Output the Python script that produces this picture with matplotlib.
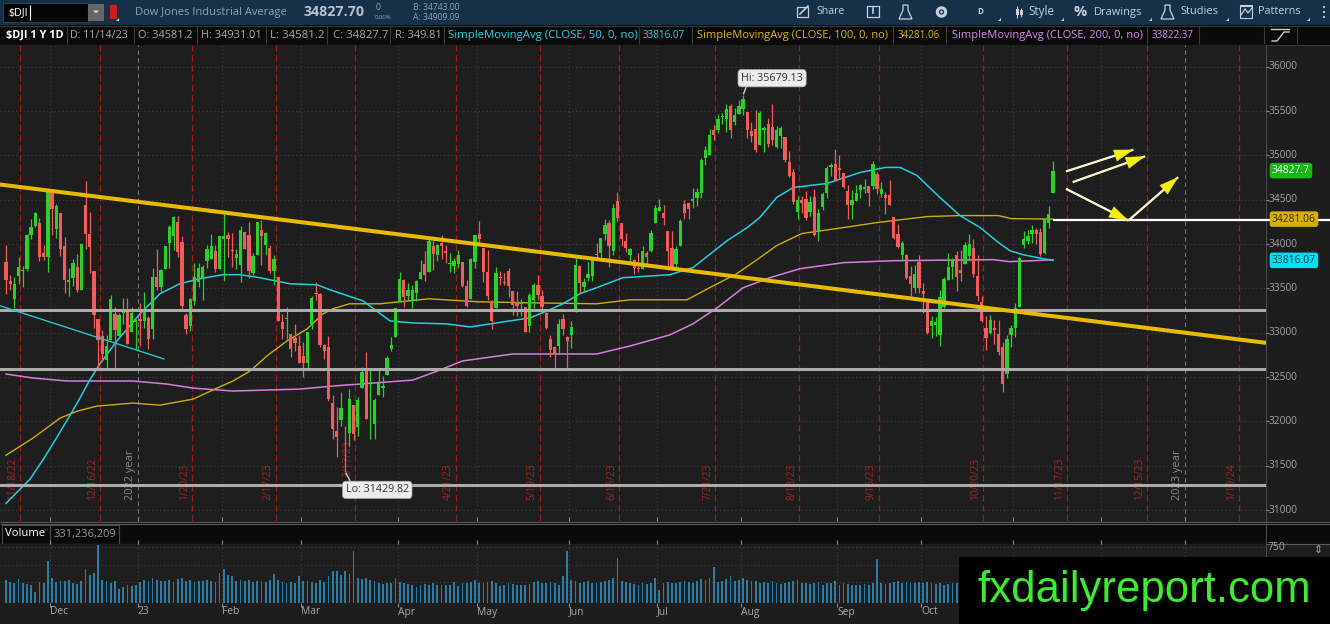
import numpy as np
import pandas as pd
import matplotlib
matplotlib.use("Agg")
import matplotlib.pyplot as plt
from matplotlib import font_manager
from matplotlib.patches import Rectangle, Polygon
from matplotlib.transforms import blended_transform_factory as blend

# ============================== data ==============================
SYMBOL = "$DJI"
NAME = "Dow Jones Industrial Average"
NET_CHANGE = "0"
PCT_CHANGE = "0.00%"
BID = "B: 34743.00"
ASK = "A: 34909.09"
CHART_TAG = "$DJI 1 Y 1D"
FIRST_DAY = "2022-11-15"
HOLIDAYS = ["2022-11-24", "2022-12-26", "2023-01-02", "2023-01-16", "2023-02-20",
            "2023-04-07", "2023-05-29", "2023-06-19", "2023-07-04", "2023-09-04",
            "2023-11-23", "2023-12-25", "2024-01-01", "2024-01-15", "2024-02-19"]

OPENS = [
    33795, 33580, 33380, 33640, 33700, 33720, 34100, 34207, 34238, 33897, 33852,
    34592, 34168, 34352, 33975, 33575, 33614, 33746, 33482, 34444, 34118, 33700, 33156, 32967, 32688, 32920, 33216, 32961, 33225, 33264, 33004, 33121,
    33149, 33136, 33168, 33046, 33624, 33519, 33713, 34009, 34086, 34247, 34025, 33198, 33073, 33363, 33570, 33616, 33810, 33834, 33920, 33715,
    34052, 34107, 33928, 33842, 33769, 34131, 34106, 33675, 33876, 34161, 33987, 33960, 33699, 33623, 33125, 33153, 32990, 32943, 32852,
    32740, 32656, 33094, 33446, 33431, 32858, 32834, 32207, 31888, 32020, 31877, 31869, 32186, 31931, 32376, 32579, 32101, 31973, 32293, 32376, 32527, 32819, 32952,
    33342, 33596, 33409, 33373, 33447, 33611, 33776, 33685, 33980, 33873, 34017, 33924, 33777, 33754, 33779, 33800, 33531, 33378, 33800,
    34115, 33958, 33690, 33360, 33275, 33630, 33569, 33693, 33468, 33349, 33321, 33286, 33079, 33373, 33533, 33413, 33218, 32933, 32836, 32845, 33152, 32954,
    32972, 33236, 33749, 33521, 33620, 33638, 33893, 33900, 34115, 34240, 33919, 34486, 34240, 34032, 33880, 33825, 33731, 33714, 33896, 33927, 34238,
    34377, 34355, 34147, 33957, 33771, 33977, 34448, 34461, 34489, 34523, 34573, 34969, 35002, 35290, 35285, 35431, 35412, 35560, 35375, 35466,
    35522, 35494, 35274, 35298, 35118, 35289, 35357, 35318, 35090, 35219, 35208, 34927, 34817, 34361, 34501, 34506, 34357, 34536, 34147, 34418, 34576, 34871, 34898,
    34863, 34803, 34599, 34444, 34486, 34613, 34620, 34652, 34651, 34788, 34567, 34557, 34553, 34301, 34116, 33874, 33876, 33640, 33509, 33802,
    33465, 33350, 33072, 33092, 32970, 33290, 33594, 33746, 33875, 33705, 33778, 33862, 33951, 33640, 33349, 33049, 33002, 33055, 32986, 32836, 32530, 32969,
    33052, 33290, 33991, 34039, 34113, 34159, 34141, 33898, 34237, 34581.2]

HIGHS = [
    33988, 33656, 33627, 33859, 33752, 34115, 34287, 34363, 34289, 33993, 34589,
    34595, 34452, 34352, 34074, 33728, 33826, 33887, 34011, 34712, 34356, 33700, 33156, 33036, 32975, 33420, 33292, 33226, 33387, 33388, 33294, 33152,
    33340, 33455, 33187, 33726, 33941, 33714, 33973, 34220, 34317, 34318, 34087, 33222, 33389, 33783, 33781, 33762, 33986, 34111, 33987, 34087,
    34335, 34138, 34120, 33943, 34202, 34140, 34252, 33897, 34249, 34266, 34138, 33988, 33881, 33623, 33215, 33287, 32990, 33096, 32970,
    32891, 33003, 33417, 33573, 33446, 32867, 32968, 32296, 32164, 32333, 31945, 32368, 32186, 32270, 32616, 32780, 32586, 32265, 32594, 32512, 32738, 32948, 33274,
    33679, 33606, 33560, 33536, 33592, 33815, 33919, 34066, 34043, 33997, 34100, 33988, 33901, 33837, 33930, 33801, 33599, 33838, 34104,
    34257, 33958, 33933, 33372, 33742, 33693, 33674, 33726, 33469, 33466, 33384, 33286, 33445, 33564, 33653, 33484, 33231, 32969, 32855, 33150, 33207, 32967,
    33132, 33839, 33758, 33620, 33798, 33850, 34010, 34072, 34288, 34274, 34446, 34589, 34240, 34125, 33951, 33826, 33895, 33974, 33925, 34160, 34445,
    34505, 34440, 34147, 34143, 33973, 34280, 34493, 34461, 34630, 34627, 34972, 35105, 35301, 35339, 35462, 35473, 35580, 35579, 35531, 35630,
    35679.13, 35494, 35376, 35510, 35502, 35335, 35423, 35578, 35334, 35335, 35208, 35054, 34850, 34545, 34542, 34603, 34544, 34622, 34391, 34587, 34875, 34910, 35070,
    35007, 34803, 34667, 34605, 34667, 34674, 34735, 34653, 34939, 34812, 34703, 34584, 34727, 34305, 34226, 34033, 33882, 33748, 33759, 33871,
    33565, 33350, 33193, 33179, 33485, 33623, 33898, 33848, 33917, 33935, 34026, 34113, 34059, 33871, 33412, 33188, 33198, 33146, 33140, 32892, 32979, 33084,
    33340, 33849, 34150, 34160, 34211, 34179, 34181, 34291, 34431, 34931.01]

LOWS = [
    33432, 33482, 33283, 33553, 33519, 33700, 34058, 34197, 33813, 33818, 33683,
    34102, 34070, 33862, 33450, 33411, 33532, 33463, 33482, 33941, 33672, 33053, 32574, 32676, 32581, 32920, 32574, 32961, 33099, 32872, 33004, 32818,
    32848, 33051, 32813, 32931, 33484, 33455, 33713, 33730, 33937, 33856, 33269, 32982, 33020, 33313, 33519, 33370, 33726, 33834, 33686, 33715,
    33583, 33859, 33737, 33717, 33573, 33942, 33616, 33650, 33876, 33765, 33877, 33670, 33543, 33127, 32928, 32927, 32723, 32795, 32653,
    32501, 32579, 33046, 33372, 32834, 32706, 32226, 31800, 31603, 31950, 31429.82, 31719, 31793, 31832, 32376, 32030, 31806, 31805, 32293, 32279, 32527, 32790, 32952,
    33342, 33291, 33367, 33282, 33361, 33611, 33583, 33685, 33705, 33812, 33828, 33790, 33679, 33677, 33732, 33513, 33286, 33378, 33728,
    34017, 33570, 33370, 33042, 33275, 33540, 33543, 33405, 33200, 33184, 33186, 33003, 33004, 33276, 33367, 33251, 33045, 32724, 32587, 32766, 32971, 32586,
    32823, 33235, 33450, 33458, 33579, 33584, 33837, 33859, 34048, 33736, 33872, 34265, 33983, 33910, 33800, 33667, 33690, 33714, 33755, 33905, 34238,
    34377, 34211, 33704, 33712, 33730, 33977, 34282, 34282, 34402, 34427, 34524, 34895, 35002, 35168, 35250, 35349, 35262, 35194, 35347, 35466,
    35457, 35200, 35150, 35034, 35118, 35038, 35095, 35118, 35081, 35081, 34924, 34758, 34456, 34285, 34348, 34268, 34319, 34093, 34030, 34381, 34522, 34770, 34711,
    34736, 34629, 34288, 34286, 34485, 34515, 34579, 34425, 34618, 34565, 34525, 34338, 34438, 34055, 33954, 33820, 33607, 33411, 33445, 33448,
    33221, 32987, 32940, 32968, 32846, 33284, 33592, 33611, 33475, 33586, 33778, 33811, 33623, 33359, 33117, 32808, 32985, 32870, 32747, 32327, 32488, 32844,
    32948, 33290, 33955, 34001, 34012, 33997, 33867, 33891, 34183, 34581.2]

CLOSES = [
    33593, 33554, 33546, 33746, 33700, 34098, 34194, 34347, 33849, 33853, 34590,
    34395, 34430, 33947, 33596, 33598, 33781, 33476, 34005, 34109, 33966, 33202, 32920, 32758, 32850, 33376, 33027, 33204, 33242, 32876, 33221, 33147,
    33136, 33270, 32930, 33631, 33518, 33704, 33973, 34190, 34303, 33911, 33297, 33045, 33375, 33630, 33734, 33744, 33949, 33978, 33717, 34086,
    34093, 34054, 33926, 33891, 34157, 33949, 33700, 33869, 34246, 34089, 34128, 33697, 33827, 33130, 33045, 33154, 32817, 32889, 32657,
    32662, 33004, 33391, 33431, 32856, 32798, 32255, 31910, 31819, 32155, 31875, 32247, 31862, 32245, 32561, 32030, 32105, 32238, 32432, 32394, 32718, 32859, 33274,
    33601, 33402, 33483, 33485, 33587, 33685, 33647, 34030, 33886, 33987, 33977, 33897, 33787, 33809, 33875, 33531, 33302, 33826, 34098,
    34052, 33685, 33414, 33128, 33674, 33619, 33562, 33531, 33310, 33301, 33349, 33012, 33421, 33536, 33427, 33287, 33056, 32800, 32765, 33093, 33043, 32908,
    33062, 33763, 33563, 33573, 33665, 33834, 33877, 34066, 34212, 33979, 34408, 34299, 34054, 33952, 33947, 33727, 33715, 33927, 33853, 34122, 34408,
    34418, 34289, 33922, 33735, 33944, 34261, 34347, 34395, 34509, 34585, 34952, 35061, 35225, 35228, 35411, 35438, 35520, 35283, 35459, 35560,
    35631, 35283, 35216, 35066, 35473, 35314, 35123, 35176, 35281, 35308, 34946, 34766, 34475, 34501, 34464, 34289, 34473, 34099, 34347, 34560, 34853, 34890, 34722,
    34838, 34642, 34443, 34501, 34577, 34664, 34646, 34576, 34907, 34618, 34624, 34518, 34441, 34070, 33964, 34007, 33619, 33550, 33666, 33508,
    33433, 33002, 33130, 33120, 33408, 33605, 33739, 33805, 33631, 33670, 33985, 33998, 33665, 33414, 33127, 32936, 33141, 33036, 32784, 32418, 32929, 33053,
    33275, 33839, 34061, 34096, 34153, 34112, 33892, 34283, 34338, 34827.7]

VOLUMES_M = [
    330, 300, 290, 340, 280, 270, 260, 150, 300, 290, 594,
    360, 300, 310, 320, 330, 280, 270, 320, 478, 400, 430, 826, 330, 310, 290, 320, 200, 230, 250, 240, 260,
    300, 330, 320, 350, 330, 310, 320, 330, 300, 340, 360, 320, 330, 300, 310, 320, 330, 320, 300, 430,
    478, 400, 380, 310, 330, 320, 330, 300, 310, 320, 300, 330, 420, 330, 300, 290, 300, 280, 380,
    320, 310, 300, 280, 330, 300, 380, 450, 460, 400, 450, 420, 740, 350, 340, 360, 330, 310, 290, 270, 280, 290, 360,
    300, 280, 270, 260, 230, 250, 270, 260, 280, 250, 260, 250, 260, 300, 240, 280, 290, 300, 330,
    280, 290, 300, 310, 290, 240, 250, 280, 270, 260, 250, 260, 270, 300, 320, 280, 290, 300, 290, 260, 380, 740,
    330, 320, 290, 300, 310, 290, 280, 300, 310, 330, 350, 638, 320, 300, 280, 270, 260, 280, 270, 290, 360,
    180, 280, 300, 280, 290, 300, 310, 300, 290, 310, 340, 330, 350, 507, 300, 310, 340, 380, 320, 330,
    360, 330, 320, 310, 290, 300, 290, 310, 280, 270, 290, 300, 310, 330, 290, 280, 270, 280, 300, 250, 280, 290, 320,
    260, 280, 270, 260, 250, 260, 270, 260, 280, 623, 280, 270, 280, 300, 310, 290, 300, 280, 290, 300,
    290, 300, 280, 270, 280, 260, 270, 280, 290, 280, 270, 290, 300, 310, 330, 300, 290, 300, 320, 310, 300, 330,
    320, 330, 300, 290, 280, 270, 290, 280, 260, 331.236209]

# moving averages at bar positions
SMA50_AT = [0, 5.7, 8.8, 12.2, 17, 20, 22.4, 26.5, 32, 36.8, 41.5, 46.3, 51.8, 55.9, 60.6, 67.8, 74.3, 78,
            85.2, 91.7, 97.2, 105.3, 110.8, 115.6, 125.1, 129.2, 133, 137, 141, 147.3, 158.5, 164, 172.2,
            177, 180, 184, 188, 196, 204, 210, 213.5, 217.5, 223, 227.8, 232.6, 237.3, 239.7, 242.8, 247.6, 250]
SMA50 = [31075, 31346, 31563, 31823, 32206, 32466, 32647, 32907, 33213, 33440, 33552, 33609, 33654, 33654,
         33620, 33552, 33540, 33473, 33360, 33133, 33110, 33099, 33065, 33099, 33167, 33246, 33326, 33439,
         33507, 33620, 33654, 33733, 34038, 34186, 34299, 34525, 34638, 34683, 34808, 34864, 34864, 34774,
         34525, 34321, 34186, 34005, 33925, 33880, 33835, 33816.07]
SMA100_AT = [0, 6.4, 12.9, 17, 21.7, 30.3, 36.8, 44.7, 50.4, 54.2, 58.3, 62.3, 67.1, 71.9, 75.7, 78, 82,
             89.3, 101, 113, 125, 141, 149, 162.6, 168, 174.5, 180, 184, 190, 200, 208, 220, 228, 237, 240, 250]
SMA100 = [31618, 31810, 32036, 32115, 32172, 32206, 32183, 32251, 32375, 32455, 32568, 32738, 32907, 33043,
          33213, 33269, 33326, 33326, 33382, 33348, 33337, 33326, 33371, 33371, 33507, 33665, 33846, 33982,
          34118, 34186, 34242, 34310, 34321, 34321, 34287, 34281.06]
SMA200_AT = [0, 6.4, 14.6, 30.3, 38.4, 44.7, 54.2, 62.3, 70.2, 78, 97.2, 103, 109, 121, 141, 149, 158.5,
             164, 169.8, 176, 182.4, 189.6, 200, 211.8, 235.7, 239.7, 250]
SMA200 = [32534, 32489, 32455, 32455, 32421, 32375, 32342, 32353, 32364, 32398, 32466, 32568, 32681, 32760,
          32760, 32850, 32975, 33099, 33280, 33507, 33620, 33722, 33790, 33812, 33824, 33801, 33822.37]

# drawings
TREND_AT = [11, 250]
TREND = [34598, 33186]
CYAN_TREND_AT = [-1.4, 37.7]
CYAN_TREND = [33303, 32704]
SUPPORT_LEVELS = [33258, 32590, 31278]
PIVOT_LEVEL = 34272
ARROWS_AT = [(253.1, 269.2), (254.7, 272.0), (253.1, 268.0), (268.0, 279.9)]
ARROWS_PRICE = [(34819, 35064), (34698, 34989), (34623, 34265), (34265, 34755)]
OPEX = ["2022-11-18", "2022-12-16", "2023-01-20", "2023-02-17", "2023-03-17", "2023-04-21",
        "2023-05-19", "2023-06-16", "2023-07-21", "2023-08-18", "2023-09-15", "2023-10-20",
        "2023-11-17", "2023-12-15", "2024-01-19"]
PRICE_TICKS = [31000, 31500, 32000, 32500, 33000, 33500, 34000, 34500, 35000, 35500, 36000]
VOL_TICKS = [750]
VOL_GRID = [250, 500, 750]
MONTH_NAMES = ["", "Jan", "Feb", "Mar", "Apr", "May", "Jun", "Jul", "Aug", "Sep", "Oct", "Nov", "Dec"]
TOOLBAR_ITEMS = ["Share", "D", "Style", "%", "Drawings", "Studies", "Patterns"]
LOGO = "fxdailyreport.com"

# ============================== layout ==============================
W, H = 1330, 624
XL, XR = -1.43, 300.86
YB, YT = 30876, 36245
LOGO_X0, LOGO_Y0 = 959, 557

names = {f.name for f in font_manager.fontManager.ttflist}
UI = "Liberation Sans Narrow" if "Liberation Sans Narrow" in names else "Open Sans"
LOGO_FONT = "Liberation Sans"

fig = plt.figure(figsize=(W / 100, H / 100), dpi=100)
fig.patch.set_facecolor("#1d1d1d")
renderer = fig.canvas.get_renderer()


def px_axes(x0, y0, x1, y1, z=0):
    a = fig.add_axes([x0 / W, 1 - y1 / H, (x1 - x0) / W, (y1 - y0) / H])
    a.set_zorder(z)
    return a


def size_for(s, width, family=UI, weight="normal"):
    t = fig.text(0, 0, s, fontsize=10, family=family, fontweight=weight)
    w = t.get_window_extent(renderer).width
    t.remove()
    return 10 * width / w


def fit_text(a, x, y, s, width, color, weight="normal", ha="left", va="center", family=UI, z=5, **kw):
    return a.text(x, y, s, color=color, fontsize=size_for(s, width, family, weight),
                  fontweight=weight, ha=ha, va=va, family=family, zorder=z, **kw)


# ---------- background / UI layer ----------
bg = px_axes(0, 0, W, H, z=0)
bg.set_xlim(0, W)
bg.set_ylim(H, 0)
bg.set_axis_off()
bg.add_patch(Rectangle((0, 0), W, 25, fc="#16304a", ec="none"))
bg.add_patch(Rectangle((0, 25), W, 20, fc="#0a0a0a", ec="none"))
bg.add_patch(Rectangle((0, 523), W, 21, fc="#0a0a0a", ec="none"))
bg.hlines([25.5, 44.5], 0, W, color="#3a3a3a", lw=0.8)
bg.hlines([521.5, 523.5, 543.5], 0, W, color="#5c5c5c", lw=0.8)
bg.vlines([1266], 45, H, color="#4a4a4a", lw=0.8)

# toolbar left
bg.add_patch(Rectangle((3, 3), 85, 19, fc="#050505", ec="#2c3e50", lw=0.8))
fit_text(bg, 8, 12.5, SYMBOL, 20, "white")
bg.vlines([30], 5, 20, color="white", lw=0.8)
bg.add_patch(Rectangle((88, 4), 16, 17, fc="#666666", ec="none"))
bg.add_patch(Polygon([(93, 10.5), (99, 10.5), (96, 13.5)], fc="#d8d8d8", ec="none"))
bg.add_patch(Rectangle((110, 5), 7, 14, fc="#d21a1a", ec="none"))
bg.add_patch(Polygon([(116, 21), (119, 21), (119, 18)], fc="#c8d4e0", ec="none"))
fit_text(bg, 135, 12, NAME, 151, "#8ea3b9")
fit_text(bg, 303, 12.5, f"{CLOSES[-1]:.2f}", 61, "#b6c2ce", weight="bold")
fit_text(bg, 376, 8, NET_CHANGE, 5, "#8ea3b9")
fit_text(bg, 375, 17.5, PCT_CHANGE, 17, "#8ea3b9")
fit_text(bg, 413, 7.5, BID, 47, "#8ea3b9")
fit_text(bg, 413, 17, ASK, 47, "#8ea3b9")

# toolbar right
tb = "#c5d0dc"
bg.add_patch(Rectangle((797, 7), 11, 10, fc="none", ec=tb, lw=0.9))
bg.plot([800, 808], [14, 6], color=tb, lw=1.2)
fit_text(bg, 816, 12, TOOLBAR_ITEMS[0], 28, tb)
bg.add_patch(Rectangle((867, 6), 12, 11, fc="none", ec=tb, lw=0.9))
bg.plot([873, 873], [8, 13], color=tb, lw=1.2)
for fx in (899, 1161):
    bg.add_patch(Polygon([(fx + 4, 5), (fx + 9, 5), (fx + 9, 10), (fx + 13, 19), (fx, 19), (fx + 4, 10)],
                         fc="none", ec=tb, lw=0.9))
bg.add_patch(plt.Circle((941.5, 12), 4.2, fc="none", ec=tb, lw=2.2))
bg.add_patch(plt.Circle((941.5, 12), 1.4, fc=tb, ec="none"))
fit_text(bg, 977, 12, TOOLBAR_ITEMS[1], 6, tb, weight="bold")
bg.vlines([1017, 1021], [6, 8], [18, 17], color=tb, lw=0.8)
bg.add_patch(Rectangle((1015.5, 9), 3, 6, fc=tb, ec="none"))
bg.add_patch(Rectangle((1019.5, 10), 3, 5, fc=tb, ec="none"))
fit_text(bg, 1028, 12, TOOLBAR_ITEMS[2], 26, tb)
fit_text(bg, 1073, 12, TOOLBAR_ITEMS[3], 13, tb, weight="bold")
fit_text(bg, 1094, 12, TOOLBAR_ITEMS[4], 48, tb)
fit_text(bg, 1180, 12, TOOLBAR_ITEMS[5], 38, tb)
bg.add_patch(Rectangle((1240, 6), 12, 12, fc="none", ec=tb, lw=0.8))
bg.plot([1241, 1245, 1248, 1252], [15, 9, 13, 8], color=tb, lw=0.9)
bg.plot([1240, 1252], [5, 5], color=tb, lw=0.8)
fit_text(bg, 1258, 12, TOOLBAR_ITEMS[6], 43, tb)
for yy in (7, 12, 17):
    bg.add_patch(plt.Circle((1324, yy), 1.1, fc=tb, ec="none"))
for cx in (998, 1061, 1149, 1226, 1307):
    bg.add_patch(Polygon([(cx, 21), (cx + 3, 21), (cx + 3, 18)], fc=tb, ec="none"))

# ---------- derived values ----------
n = len(CLOSES)
X = np.arange(n)
O, Hh, L, C = (np.array(v, float) for v in (OPENS, HIGHS, LOWS, CLOSES))
dates = pd.bdate_range(FIRST_DAY, "2024-02-28")
dates = dates[~dates.isin(pd.to_datetime(HOLIDAYS))]
idx_of = {d: i for i, d in enumerate(dates)}
month_starts = [i for i in range(1, len(dates)) if dates[i].month != dates[i - 1].month]
last = dates[n - 1]
Rng = round(HIGHS[-1] - LOWS[-1], 2)
px_per_idx = 1266 / (XR - XL)
hi, lo = int(np.argmax(Hh)), int(np.argmin(L))

# header row
header = [
    (CHART_TAG, 6, 57, "white", "bold"),
    (f"D: {last.month}/{last.day}/{last:%y}", 70, 58, "#a9a9a9", "normal"),
    (f"O: {OPENS[-1]}", 138, 55, "#a9a9a9", "normal"),
    (f"H: {HIGHS[-1]}", 201, 61, "#a9a9a9", "normal"),
    (f"L: {LOWS[-1]}", 270, 54, "#a9a9a9", "normal"),
    (f"C: {CLOSES[-1]}", 333, 55, "#a9a9a9", "normal"),
    (f"R: {Rng}", 395, 47, "#a9a9a9", "normal"),
    ("SimpleMovingAvg (CLOSE, 50, 0, no)", 448, 189, "#27d3e6", "normal"),
    (f"{SMA50[-1]:.2f}", 643, 42, "#27d3e6", "normal"),
    ("SimpleMovingAvg (CLOSE, 100, 0, no)", 697, 192, "#d9b417", "normal"),
    (f"{SMA100[-1]:.2f}", 898, 42, "#d9b417", "normal"),
    ("SimpleMovingAvg (CLOSE, 200, 0, no)", 952, 191, "#d48de8", "normal"),
    (f"{SMA200[-1]:.2f}", 1152, 42, "#d48de8", "normal"),
]
for s, x, w, col, wt in header:
    fit_text(bg, x, 35.5, s, w, col, weight=wt)
bg.vlines([67, 134, 197, 266, 327, 390, 444, 639, 692, 893, 946, 1147, 1199, 1264, 1297],
          26, 44, color="#3a3a3a", lw=0.8)
bg.plot([1271, 1289], [29, 29], color="#d0d0d0", lw=1.0)
bg.plot([1272, 1277, 1284, 1289], [41, 41, 32, 32], color="#d0d0d0", lw=1.0)

# volume header
bg.add_patch(Rectangle((1.5, 524.5), 48, 19, fc="none", ec="#4a4a4a", lw=0.8))
bg.add_patch(Rectangle((49.5, 524.5), 69, 19, fc="none", ec="#4a4a4a", lw=0.8))
fit_text(bg, 5, 534, "Volume", 40, "white")
fit_text(bg, 53, 534, f"{int(round(VOLUMES_M[-1] * 1e6)):,}", 62, "#9a9a9a")

# ---------- main price panel ----------
ax = px_axes(0, 45, 1266, 521, z=2)
ax.set_facecolor("#1e1e1e")
ax.set_xlim(XL, XR)
ax.set_ylim(YB, YT)
for s in ("top", "left", "bottom", "right"):
    ax.spines[s].set_visible(False)
ax.set_yticks([])
ax.set_xticks([m - 0.5 for m in month_starts if XL < m < XR])
ax.tick_params(axis="x", direction="in", length=3, color="#8a8a8a", labelbottom=False)

dot = (0, (1, 2.5))
for p in PRICE_TICKS:
    ax.axhline(p, color="#3e3e3e", lw=0.8, ls=dot, zorder=0.5)
price_per_px = (YT - YB) / 476
label_bottom = YB + (521 - 500) * price_per_px
raised_bottom = YB + (521 - 477) * price_per_px   # just above the Lo bubble
for m in month_starts:
    if not (XL < m < XR):
        continue
    if dates[m].month == 1:
        ax.axvline(m - 0.5, color="#767676", lw=0.8, ls=(0, (4, 3)), zorder=0.6)
        ax.annotate(f"{dates[m].year - 1} year", xy=(m - 0.5, label_bottom), xytext=(-2, 0),
                    textcoords="offset pixels", rotation=90, rotation_mode="anchor", ha="left",
                    va="bottom", color="#8a8a8a", fontsize=size_for("2022 year", 50), family=UI, zorder=1)
    else:
        ax.axvline(m - 0.5, color="#3e3e3e", lw=0.8, ls=dot, zorder=0.5)
opex_size = size_for("12/16/22", 42)
for d in OPEX:
    ts = pd.Timestamp(d)
    i = idx_of[ts] + 0.4
    ax.axvline(i, color="#a51c1c", lw=0.9, ls=(0, (5, 3)), zorder=1)
    yb = raised_bottom if -4 <= i - lo <= 18 else label_bottom
    ax.annotate(f"{ts.month}/{ts.day}/{ts:%y}", xy=(i, yb), xytext=(-2, 0),
                textcoords="offset pixels", rotation=90, rotation_mode="anchor", ha="left",
                va="bottom", color="#a32626", fontsize=opex_size, family=UI, zorder=1.1)

# moving averages
ax.plot(SMA200_AT, SMA200, color="#d47fdc", lw=1.1, zorder=3)
ax.plot(SMA100_AT, SMA100, color="#cfae0c", lw=1.0, zorder=3)
ax.plot(SMA50_AT, SMA50, color="#22cfe0", lw=1.1, zorder=3)

# candles
GREEN, RED = "#2bd02b", "#f25c5c"
cols = np.where(C >= O, GREEN, RED)
ax.vlines(X, L, Hh, colors=cols, lw=0.9, zorder=4)
ax.bar(X, np.maximum(np.abs(C - O), 9), bottom=np.minimum(O, C), width=0.78, color=cols, lw=0, zorder=4)

# drawings
for lvl in SUPPORT_LEVELS:
    ax.axhline(lvl, color="#ababab", lw=2.2, zorder=5)
ax.axline((TREND_AT[0], TREND[0]), (TREND_AT[1], TREND[1]), color="#e9bb00", lw=2.9, zorder=6)
ax.plot(CYAN_TREND_AT, CYAN_TREND, color="#29c4d8", lw=1.0, zorder=6)
ax.plot([n - 1, XR + 64 / px_per_idx], [PIVOT_LEVEL, PIVOT_LEVEL], color="white", lw=1.6,
        zorder=7, clip_on=False, solid_capstyle="butt")
for (xa, xb), (pa, pb) in zip(ARROWS_AT, ARROWS_PRICE):
    ax.plot([xa, xb], [pa, pb], color="white", lw=1.6, zorder=7, solid_capstyle="butt")
    ax.annotate("", xy=(xb, pb), xytext=(xa, pa),
                arrowprops=dict(arrowstyle="-|>,head_length=0.95,head_width=0.3", mutation_scale=14,
                                fc="#f3ee16", ec="#f3ee16", lw=0.3, shrinkA=0, shrinkB=0), zorder=8)

# hi / lo bubbles
bub = dict(boxstyle="round,pad=0.3,rounding_size=0.35", fc="#ececec", ec="#a0a0a0", lw=0.5)
bsize = size_for("Hi: 35679.13", 62)
ax.annotate(f"Hi: {HIGHS[hi]:.2f}", xy=(hi, HIGHS[hi]), xytext=(29, 17), textcoords="offset pixels",
            ha="center", va="center", fontsize=bsize, family=UI, color="#333333", bbox=bub, zorder=9,
            arrowprops=dict(arrowstyle="-", color="#cfcfcf", lw=1, shrinkA=0, shrinkB=1, relpos=(0.1, 0)))
ax.annotate(f"Lo: {LOWS[lo]:.2f}", xy=(lo, LOWS[lo]), xytext=(32, -18), textcoords="offset pixels",
            ha="center", va="center", fontsize=bsize, family=UI, color="#333333", bbox=bub, zorder=9,
            arrowprops=dict(arrowstyle="-", color="#cfcfcf", lw=1, shrinkA=0, shrinkB=1, relpos=(0.1, 1)))

# price axis labels
tr = blend(ax.transAxes, ax.transData)
tsize = size_for("36000", 29)
for p in PRICE_TICKS:
    ax.text(1 + 3 / 1266, p, str(p), transform=tr, ha="left", va="center", fontsize=tsize,
            family=UI, color="#a6a6a6", clip_on=False, zorder=2)
ax.hlines(PRICE_TICKS, 1.0, 1 + 3 / 1266, transform=tr, color="#8a8a8a", lw=0.8, clip_on=False)
vsize = size_for("34827.7", 38)
for val, s, fc, tc in [(CLOSES[-1], f"{CLOSES[-1]}", "#19b719", "white"),
                       (SMA100[-1], f"{SMA100[-1]:.2f}", "#d5b000", "#3a3000"),
                       (SMA50[-1], f"{SMA50[-1]:.2f}", "#00e1f5", "#0c2a30")]:
    ax.text(1 + 6 / 1266, val, s, transform=tr, ha="left", va="center", fontsize=vsize, family=UI,
            color=tc, clip_on=False, zorder=12,
            bbox=dict(boxstyle="round,pad=0.22,rounding_size=0.25", fc=fc, ec="none"))

# ---------- volume panel ----------
av = px_axes(0, 544, 1266, 603, z=2)
av.set_facecolor("#1e1e1e")
av.set_xlim(XL, XR)
av.set_ylim(-45, 795)
for s in ("top", "left", "bottom", "right"):
    av.spines[s].set_visible(False)
for v in VOL_GRID:
    av.axhline(v, color="#3e3e3e", lw=0.8, ls=dot, zorder=0.5)
for m in month_starts:
    if XL < m < XR:
        av.axvline(m - 0.5, color="#3e3e3e", lw=0.8, ls=dot, zorder=0.5)
av.bar(X, VOLUMES_M, bottom=-45, width=0.42, color="#2b7ea3", lw=0, zorder=2)
av.set_yticks([])
av.set_xticks([m - 0.5 for m in month_starts if XL < m < XR])
av.tick_params(axis="x", direction="out", length=3, color="#8a8a8a", labelbottom=False, top=True)
trv = blend(av.transAxes, av.transData)
for v in VOL_TICKS:
    av.text(1 + 2 / 1266, v, str(v), transform=trv, ha="left", va="center", fontsize=size_for("750", 18),
            family=UI, color="#a6a6a6", clip_on=False)
trd = blend(av.transData, av.transAxes)
msize = size_for("Dec", 18)
for m in month_starts:
    # month names that fall under the logo panel are hidden in the reference
    if XL < m < XR and (m - 0.5 - XL) * px_per_idx < LOGO_X0 - 20:
        d = dates[m]
        lab = f"{d.year % 100}" if d.month == 1 else MONTH_NAMES[d.month]
        av.text(m - 0.5, -9 / 59, lab, transform=trd, ha="left", va="center", fontsize=msize,
                family=UI, color="#a9a9a9", clip_on=False)

# ---------- logo overlay ----------
fg = px_axes(0, 0, W, H, z=10)
fg.set_xlim(0, W)
fg.set_ylim(H, 0)
fg.set_axis_off()
fg.add_patch(Rectangle((LOGO_X0, LOGO_Y0), W - LOGO_X0, H - LOGO_Y0, fc="black", ec="none"))
fit_text(fg, 977, 602, LOGO, 335, "#3dec2e", va="baseline", family=LOGO_FONT)
fit_text(fg, 1318, 550, "\u21d5", 9, "#a6a6a6", ha="center", family="DejaVu Sans")

fig.savefig("out.png", dpi=100, facecolor=fig.get_facecolor())
